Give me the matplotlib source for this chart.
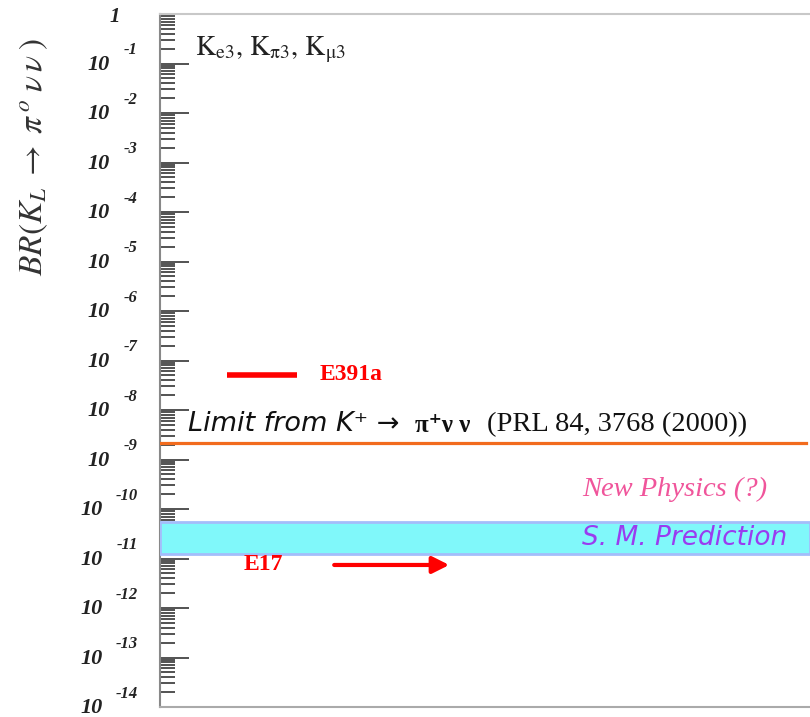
import matplotlib
matplotlib.use("Agg")
import matplotlib.pyplot as plt
import matplotlib.transforms as mtransforms
from matplotlib.ticker import LogLocator, NullLocator, NullFormatter
import numpy as np

plt.rcParams['mathtext.fontset'] = 'stix'

# branching ratios (K_L -> pi0 nu nu)
decades = np.arange(0, -15, -1)
limit_kplus = 2.2e-9          # Grossman-Nir limit from K+ -> pi+ nu nu
sm_band = (1.25e-11, 5.5e-11)  # Standard Model prediction
exp_names = ["E391a", "E17"]
exp_values = [5.2e-8, 7.4e-12]

fig = plt.figure(figsize=(8.1, 7.17), dpi=100)
ax = fig.add_axes([160/810, 10/717, 650/810, 693/717])
ax.set_yscale('log')
ax.set_ylim(1e-14, 1)
ax.set_xlim(0, 1)

ax.xaxis.set_major_locator(NullLocator())
ax.yaxis.set_major_locator(LogLocator(base=10, numticks=30))
ax.yaxis.set_minor_locator(LogLocator(base=10, subs=np.arange(2, 10), numticks=30))
ax.yaxis.set_major_formatter(NullFormatter())
ax.yaxis.set_minor_formatter(NullFormatter())
ax.tick_params(axis='y', which='major', direction='in', length=21, width=1.3, color='#444')
ax.tick_params(axis='y', which='minor', direction='in', length=10.5, width=1.3, color='#444')
ax.spines['right'].set_visible(False)
ax.spines['left'].set_color('#888')
ax.spines['top'].set_color('#c8c8c8')
ax.spines['bottom'].set_color('#aaa')
for s in ['left', 'top', 'bottom']:
    ax.spines[s].set_linewidth(1.5)

# decade labels: "10" with exponent written as separate texts
trans = mtransforms.blended_transform_factory(ax.transAxes, ax.transData)
def shifted(dy):
    return trans + mtransforms.ScaledTranslation(0, dy/72, fig.dpi_scale_trans)

lab_font = dict(family='Liberation Serif', style='italic', weight='bold', color='#222')
for k in decades:
    if k == 0:
        ax.text(-0.069, 10.0**k, "1", transform=shifted(-2), ha='center', va='center',
                fontsize=15, **lab_font)
        continue
    ax.text(-0.034, 10.0**k, "%d" % k, transform=shifted(9.5),
            ha='right', va='center', fontsize=12, **lab_font)
    ax.text(-0.088 if k <= -10 else -0.077, 10.0**k, "10", transform=shifted(-1),
            ha='right', va='center', fontsize=16, **lab_font)

fig.text(34/810, 1 - 157/717, r"$BR(K_L\;\rightarrow\;\pi^{\,o}\;\nu\,\nu\;)$", rotation=90,
         ha='center', va='center', fontsize=24, color='#333')

# Standard Model band
ax.axhspan(sm_band[0], sm_band[1], facecolor='#80f8fa', edgecolor='#a4bdfa', lw=2, zorder=3)
ax.text(0.649, np.sqrt(sm_band[0] * sm_band[1]), "S. M. Prediction", ha='left', va='center',
        fontsize=19, style='italic', family='DejaVu Sans', color='#9a3cf0', zorder=4)
ax.annotate("New Physics (?)", xy=(0.649, sm_band[1]), xytext=(0, 23), textcoords='offset points',
            ha='left', va='center', fontsize=20.5, style='italic', family='Liberation Serif',
            color='#f0559b')

# limit from charged kaon
ax.axhline(limit_kplus, xmin=0, xmax=0.994, color='#f26b1d', lw=2.3, zorder=4)
t1 = ax.annotate("Limit from K\u207a \u2192", xy=(0.043, limit_kplus), xytext=(0, 4),
                 textcoords='offset points', ha='left', va='bottom', fontsize=19.5,
                 style='italic', family='DejaVu Sans', color='#111')
t2 = ax.annotate("\u03c0\u207a\u03bd \u03bd", xycoords=t1, xy=(1, 0), xytext=(16, 0),
                 textcoords='offset pixels', va='bottom', ha='left',
                 fontsize=18, weight='bold', family=['Liberation Serif', 'DejaVu Serif'], color='#111')
ax.annotate("(PRL 84, 3768 (2000))", xycoords=t2, xy=(1, 0), xytext=(16, 0),
            textcoords='offset pixels', va='bottom', ha='left',
            fontsize=20.5, family='Liberation Serif', color='#111')

ax.text(0.054, 0.949, r"$\mathrm{K_{e3},\,K_{\pi3},\,K_{\mu3}}$", transform=ax.transAxes,
        ha='left', va='center', fontsize=20, color='#222')

# experiments
ax.hlines(exp_values[0], 0.103, 0.211, color='red', lw=4)
ax.text(0.246, exp_values[0], exp_names[0], ha='left', va='center', fontsize=17,
        weight='bold', family='Liberation Serif', color='red')
ax.annotate("", xy=(0.445, exp_values[1]), xytext=(0.268, exp_values[1]),
            arrowprops=dict(arrowstyle='-|>', color='red', lw=3, mutation_scale=25,
                            shrinkA=0, shrinkB=0))
ax.text(0.128, exp_values[1], exp_names[1], ha='left', va='center', fontsize=17,
        weight='bold', family='Liberation Serif', color='red')

fig.savefig("out.png", dpi=100)
